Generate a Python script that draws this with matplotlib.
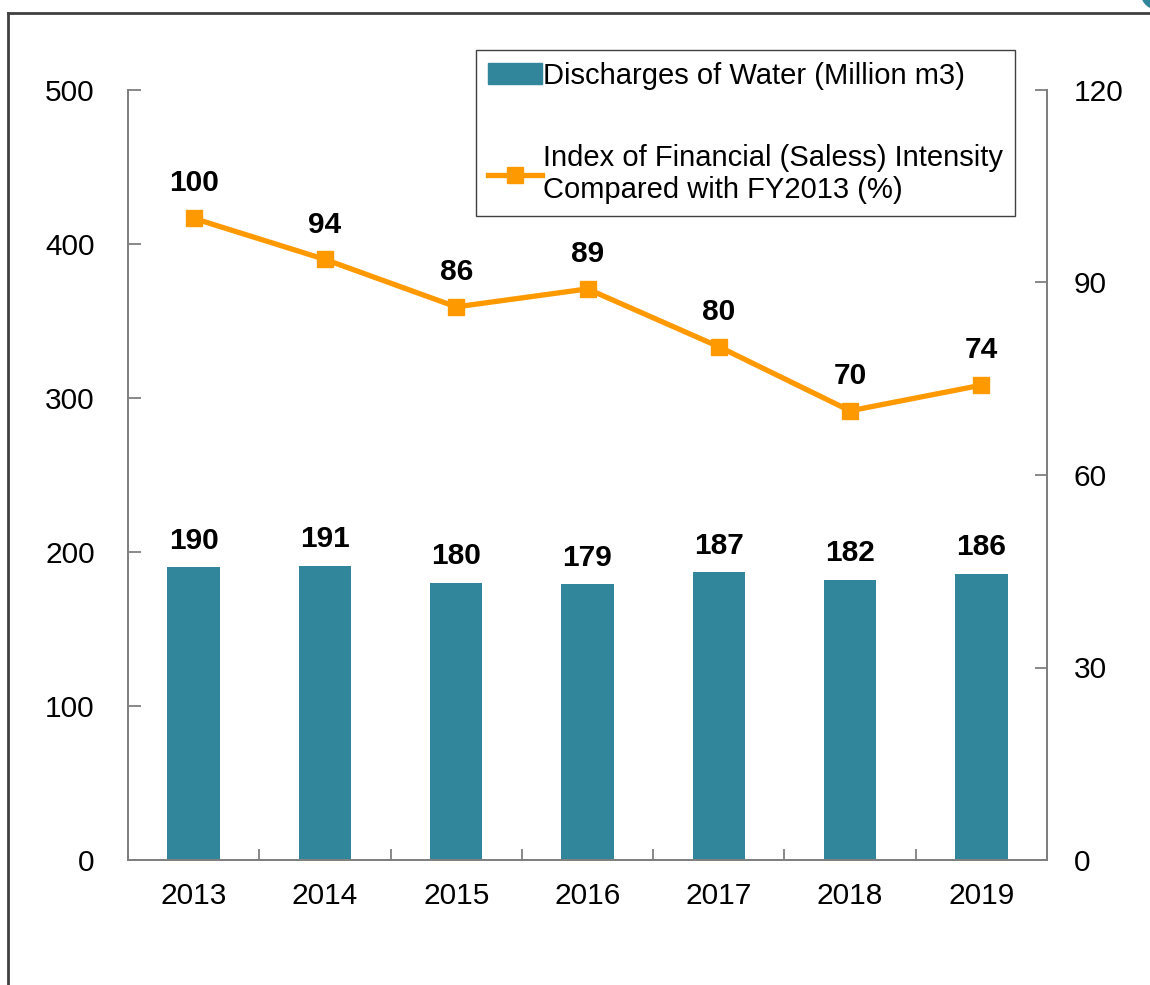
import matplotlib
matplotlib.use("Agg")
import matplotlib.pyplot as plt
from matplotlib.patches import Circle
from matplotlib.lines import Line2D
import numpy as np

years = ["2013", "2014", "2015", "2016", "2017", "2018", "2019"]
discharges = [190, 191, 180, 179, 187, 182, 186]
intensity = [100, 93.6, 86.2, 89, 80, 70, 74]
left_ticks = [0, 100, 200, 300, 400, 500]
right_ticks = [0, 30, 60, 90, 120]
bar_label = "Discharges of Water (Million m3)"
line_label = "Index of Financial (Saless) Intensity\nCompared with FY2013 (%)"

BAR_C = "#31869b"
LINE_C = "#ff9900"
SPINE_C = "#7f7f7f"

plt.rcParams['font.family'] = ['Liberation Sans', 'DejaVu Sans']

fig = plt.figure(figsize=(11.5, 9.85), dpi=100)
ax = fig.add_axes([128/1150, 1-860/985, (1047-128)/1150, (860-90)/985])
ax2 = ax.twinx()

x = np.arange(len(years))
bars = ax.bar(x, discharges, width=0.40, color=BAR_C, zorder=2, label=bar_label)
ax.set_xlim(-0.5, len(years)-0.5)
ax.set_ylim(0, 500)
ax.set_yticks(left_ticks)
ax.set_xticks(x)
ax.set_xticklabels(years)
ax.set_xticks(np.arange(-0.5, len(years), 1.0), minor=True)
ax.tick_params(axis='x', which='major', length=0, pad=16, labelsize=21.5)
ax.tick_params(axis='x', which='minor', direction='in', length=8, color=SPINE_C, width=1.3)
ax.tick_params(axis='y', direction='in', length=9, color=SPINE_C, width=1.3, pad=24, labelsize=21.5)
for b, v in zip(bars, discharges):
    ax.annotate(f"{v}", (b.get_x()+b.get_width()/2, v), xytext=(0, 9), textcoords='offset points',
                ha='center', va='bottom', fontsize=21.5, fontweight='bold')

ax2.plot(x, intensity, color=LINE_C, lw=3.8, marker='s', markersize=12, zorder=3)
ax2.set_ylim(0, 120)
ax2.set_yticks(right_ticks)
ax2.tick_params(axis='y', direction='in', length=9, color=SPINE_C, width=1.3, pad=19, labelsize=21.5)
for xi, v in zip(x, intensity):
    ax2.annotate(f"{v:.0f}", (xi, v), xytext=(0, 15), textcoords='offset points',
                 ha='center', va='bottom', fontsize=21.5, fontweight='bold')

for a in (ax, ax2):
    a.spines['top'].set_visible(False)
    for s in ('left', 'right', 'bottom'):
        a.spines[s].set_color(SPINE_C)
        a.spines[s].set_linewidth(1.3)

h1 = plt.Rectangle((0, 0), 1, 1, color=BAR_C)
h2 = Line2D([], [], color=LINE_C, lw=3.8, marker='s', markersize=12)
leg = ax2.legend([h1, h2], [bar_label, line_label], loc='upper left',
                 bbox_to_anchor=(476/1150, 1-50/985), bbox_transform=fig.transFigure,
                 fontsize=21, frameon=True, fancybox=False, edgecolor='#404040',
                 framealpha=1, borderpad=0.4, labelspacing=1.85, handlelength=1.85,
                 handletextpad=0.05, borderaxespad=0)
leg.get_frame().set_linewidth(1.0)

# page frame lines
fig.add_artist(Line2D([8/1150, 1], [1-13/985, 1-13/985], transform=fig.transFigure, color='#404040', lw=2))
fig.add_artist(Line2D([8/1150, 8/1150], [0, 1-13/985], transform=fig.transFigure, color='#404040', lw=2))
fig.add_artist(Circle((1160/1150, 1+6/985), 0.016, transform=fig.transFigure, color=BAR_C, clip_on=False))

fig.savefig("out.png", dpi=100)
